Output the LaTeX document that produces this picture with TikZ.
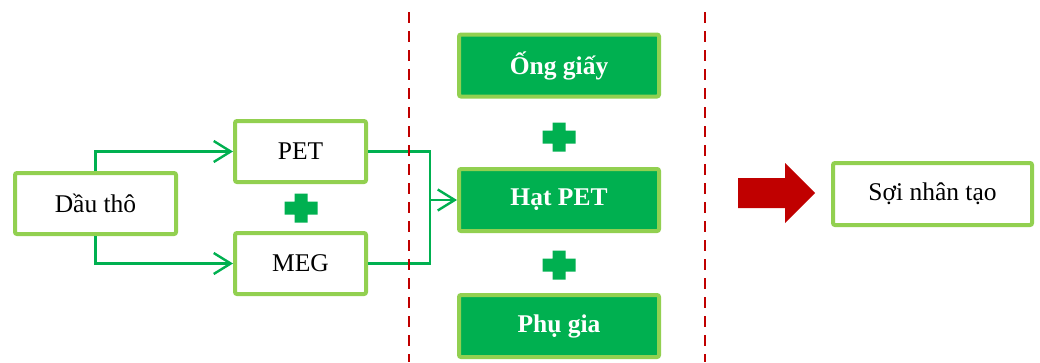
\documentclass[tikz,border=0pt]{standalone}
\usepackage{fontspec}
\setmainfont{Liberation Serif}
\usetikzlibrary{arrows.meta}
\definecolor{lgreen}{HTML}{92D050}
\definecolor{dgreen}{HTML}{00B050}
\definecolor{dred}{HTML}{C00000}
\tikzset{
  box/.style={draw=lgreen, line width=4pt, rounded corners=2pt, fill=white,
    inner sep=0pt, font=\fontsize{25.5}{30}\selectfont},
  gbox/.style={box, fill=dgreen, text=white, font=\fontsize{25.5}{30}\selectfont\bfseries,
    minimum width=200pt, minimum height=62pt},
  conn/.style={draw=dgreen, line width=2.4pt, -{Straight Barb[length=17pt,width=21pt,line width=2.4pt]}},
  connplain/.style={draw=dgreen, line width=2.4pt},
  divider/.style={draw=dred, line width=2.5pt, dash pattern=on 11pt off 8pt},
  plussign/.pic={\fill[dgreen] (-6.5,-14.5) -- (6.5,-14.5) -- (6.5,-6.5) -- (16.5,-6.5) -- (16.5,6.5)
      -- (6.5,6.5) -- (6.5,14.5) -- (-6.5,14.5) -- (-6.5,6.5) -- (-16.5,6.5) -- (-16.5,-6.5) -- (-6.5,-6.5) -- cycle;}
}
\begin{document}
\begin{tikzpicture}[x=1pt,y=-1pt]
\useasboundingbox (0,0) rectangle (1040,362);
% dividers
\draw[divider] (409,12) -- (409,362);
\draw[divider] (705,12) -- (705,362);
% left nodes
\node[box, minimum width=161pt, minimum height=61pt] (D) at (95.5,203.5) {Dầu thô};
\node[box, minimum width=131pt, minimum height=61pt] (PET) at (300.5,151.5) {PET};
\node[box, minimum width=131pt, minimum height=61pt] (MEG) at (300.5,263.5) {MEG};
\pic at (301,208) {plussign};
% middle nodes
\node[gbox] (O) at (559,65.5) {Ống giấy};
\node[gbox] (H) at (559,200) {Hạt PET};
\node[gbox] (P) at (559,326) {Phụ gia};
\pic at (559,137) {plussign};
\pic at (559,265) {plussign};
% right
\node[box, minimum width=199pt, minimum height=62pt] (S) at (932.5,194) {Sợi nhân tạo};
\fill[dred] (738,178) -- (785,178) -- (785,163) -- (815,193) -- (785,223) -- (785,208) -- (738,208) -- cycle;
% connectors
\coordinate (m) at (430,200);
\draw[conn] (D.north) |- (PET.west);
\draw[conn] (D.south) |- (MEG.west);
\draw[connplain] (PET.east) -| (m);
\draw[connplain] (MEG.east) -| (m);
\draw[conn] (m) -- (H.west);
% redraw divider over connectors
\begin{scope}
\clip (400,140) rectangle (418,275);
\draw[divider] (409,12) -- (409,362);
\end{scope}
\end{tikzpicture}
\end{document}
